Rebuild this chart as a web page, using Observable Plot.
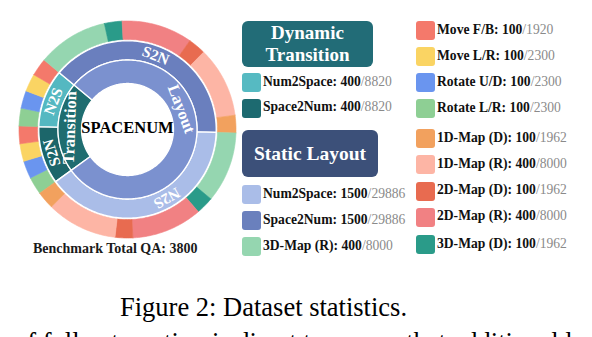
<!DOCTYPE html>
<html><head><meta charset="utf-8">
<script src="https://cdn.jsdelivr.net/npm/d3@7"></script>
<script src="https://cdn.jsdelivr.net/npm/@observablehq/plot@0.6"></script>
<style>
body{margin:0;background:#fff;}
#wrap{position:relative;width:592px;height:337px;overflow:hidden;font-family:"Liberation Serif",serif;}
#sun{position:absolute;left:7px;top:9px;}
.hdr{position:absolute;border-radius:6px;color:#fff;font-weight:bold;text-align:center;}
.sw{position:absolute;width:19px;height:19px;border-radius:3px;}
.lab{position:absolute;white-space:nowrap;font-size:13.6px;line-height:19px;font-weight:bold;color:#111;}
.tot{color:#8a8a8a;font-weight:normal;}
.txt{position:absolute;white-space:nowrap;}
</style></head>
<body>
<div id="wrap">
  <div id="sun"></div>
</div>
<script>
// ---------- data ----------
const groupNames = ["Transition", "Layout"];
const directions = ["Space2Num", "Num2Space"];
const dirShort = ["S2N", "N2S"];
const transitionTasks = ["Rotate L/R", "Rotate U/D", "Move L/R", "Move F/B"];
const transitionQA = [100, 100, 100, 100];          // per direction
const layoutTasks = ["3D-Map (R)", "3D-Map (D)", "2D-Map (R)", "2D-Map (D)", "1D-Map (R)", "1D-Map (D)"];
const layoutQA = [400, 100, 400, 100, 400, 100];     // per direction
const benchmarkTotal = 3800;

// legend data
const dynamicNames = ["Num2Space", "Space2Num"];
const dynamicQA = [400, 400];
const dynamicPool = [8820, 8820];
const staticNames = ["Num2Space", "Space2Num", "3D-Map (R)"];
const staticQA = [1500, 1500, 400];
const staticPool = [29886, 29886, 8000];
const taskNames = ["Move F/B", "Move L/R", "Rotate U/D", "Rotate L/R", "1D-Map (D)", "1D-Map (R)", "2D-Map (D)", "2D-Map (R)", "3D-Map (D)"];
const taskQA = [100, 100, 100, 100, 100, 400, 100, 400, 100];
const taskPool = [1920, 2300, 2300, 2300, 1962, 8000, 1962, 8000, 1962];

// ---------- colours ----------
const innerColor = {Transition: "#1f6d70", Layout: "#7b91cf"};
const middleColor = {
  "Transition|Space2Num": "#1c666a", "Transition|Num2Space": "#54b8c1",
  "Layout|Space2Num": "#6a7fbe", "Layout|Num2Space": "#aabde8"
};
const taskColor = {
  "Move F/B": "#f4796b", "Move L/R": "#fad463", "Rotate U/D": "#6a95ef", "Rotate L/R": "#8ecf94",
  "1D-Map (D)": "#f2a15e", "1D-Map (R)": "#fdb5a5", "2D-Map (D)": "#e86b50", "2D-Map (R)": "#f18183",
  "3D-Map (D)": "#2a9b89", "3D-Map (R)": "#95d6b0"
};
const dynamicColors = ["#56bac2", "#1d6a70"];
const staticColors = ["#aabde8", "#6a80bd", "#95d6b0"];

// ---------- sunburst geometry ----------
const startAngle = 234;             // degrees, clockwise from 12 o'clock
const degPerQA = 360 / benchmarkTotal;
const R = {inner: [46, 69.5], middle: [69.5, 88.7], outer: [90, 108.5]};
const labelFrac = {"Layout": 0.42, "Layout|Num2Space": 0.41};

function arcPoly(id, color, a0, a1, r0, r1) {
  const pts = [];
  const n = Math.max(2, Math.ceil(a1 - a0));
  for (let i = 0; i <= n; i++) {
    const a = (a0 + (a1 - a0) * i / n) * Math.PI / 180;
    pts.push({id, color, x: r1 * Math.sin(a), y: r1 * Math.cos(a)});
  }
  for (let i = n; i >= 0; i--) {
    const a = (a0 + (a1 - a0) * i / n) * Math.PI / 180;
    pts.push({id, color, x: r0 * Math.sin(a), y: r0 * Math.cos(a)});
  }
  pts.push({...pts[0]});
  return pts;
}
function labelAt(text, a0, a1, r, frac, size) {
  const a = a0 + (a1 - a0) * frac;
  const t = a * Math.PI / 180;
  return {text, x: r * Math.sin(t), y: r * Math.cos(t), rotate: a, size};
}

const innerPolys = [], middlePolys = [], outerPolys = [], labels = [];
let angle = startAngle;
groupNames.forEach(g => {
  const tasks = g === "Transition" ? transitionTasks : layoutTasks;
  const qa = g === "Transition" ? transitionQA : layoutQA;
  const dirTotal = d3.sum(qa);
  const gStart = angle;
  const gEnd = gStart + dirTotal * directions.length * degPerQA;
  innerPolys.push(...arcPoly(g, innerColor[g], gStart, gEnd, ...R.inner));
  labels.push(labelAt(g, gStart, gEnd, (R.inner[0] + R.inner[1]) / 2, labelFrac[g] ?? 0.5, 16.5));
  directions.forEach((dir, di) => {
    const key = g + "|" + dir;
    const dStart = angle;
    const dEnd = dStart + dirTotal * degPerQA;
    middlePolys.push(...arcPoly(key, middleColor[key], dStart, dEnd, ...R.middle));
    labels.push(labelAt(dirShort[di], dStart, dEnd, (R.middle[0] + R.middle[1]) / 2, labelFrac[key] ?? 0.5, 15.5));
    tasks.forEach((task, ti) => {
      const tEnd = angle + qa[ti] * degPerQA;
      outerPolys.push(...arcPoly(key + "|" + task, taskColor[task], angle, tEnd, ...R.outer));
      angle = tEnd;
    });
  });
});

const sun = Plot.plot({
  width: 240, height: 240, margin: 0,
  style: {background: "transparent"},
  x: {domain: [-120, 120], axis: null},
  y: {domain: [-120, 120], axis: null},
  color: {type: "identity"},
  marks: [
    Plot.line(outerPolys, {x: "x", y: "y", z: "id", fill: "color", stroke: "color", strokeWidth: 0.6}),
    Plot.line(middlePolys, {x: "x", y: "y", z: "id", fill: "color", stroke: "white", strokeWidth: 1.3}),
    Plot.line(innerPolys, {x: "x", y: "y", z: "id", fill: "color", stroke: "white", strokeWidth: 1.3}),
    Plot.text(labels, {x: "x", y: "y", text: "text", rotate: "rotate", fontSize: "size", fill: "white",
      fontWeight: "bold", fontFamily: "Liberation Serif"}),
    Plot.text(["SPACENUM"], {frameAnchor: "middle", text: d => d, fontSize: 16.5, fontWeight: "bold",
      fontFamily: "Liberation Serif", fill: "#000", dy: -2})
  ]
});
document.getElementById("sun").append(sun);

// ---------- legends ----------
const wrap = document.getElementById("wrap");
function el(cls, style, html) {
  const d = document.createElement("div");
  d.className = cls; d.setAttribute("style", style); d.innerHTML = html || "";
  wrap.append(d); return d;
}
el("hdr", "left:242px;top:21px;width:131px;height:46px;background:#226c77;font-size:19px;line-height:22.5px;padding-top:0.5px;box-sizing:border-box;", "Dynamic<br>Transition");
el("hdr", "left:242px;top:130px;width:136px;height:47px;background:#3c5079;font-size:19.5px;line-height:47px;", "Static Layout");

function item(x, y, color, name, qa, pool) {
  el("sw", `left:${x}px;top:${y}px;background:${color};`);
  el("lab", `left:${x + 21}px;top:${y - 1.5}px;`, `${name}: ${qa}<span class="tot">/${pool}</span>`);
}
const dynTops = [73, 98.5];
dynamicNames.forEach((n, i) => item(242, dynTops[i], dynamicColors[i], n, dynamicQA[i], dynamicPool[i]));
const statTops = [185, 211, 237];
staticNames.forEach((n, i) => item(242, statTops[i], staticColors[i], n, staticQA[i], staticPool[i]));
const taskTops = [21, 47, 73, 99, 129, 155, 181.5, 207.5, 235];
taskNames.forEach((n, i) => item(416, taskTops[i], taskColor[n], n, taskQA[i], taskPool[i]));

el("txt", "left:33px;top:240.5px;font-size:14px;line-height:16px;font-weight:bold;color:#1a1a1a;", `Benchmark Total QA: ${benchmarkTotal}`);
el("txt", "left:120px;top:291.5px;font-size:26.5px;line-height:30px;color:#000;", "Figure 2: Dataset statistics.");
el("txt", "left:14px;top:327px;font-size:26.5px;line-height:30px;color:#000;", "of full automation is direct to ensure that additional l");
</script>
</body></html>
